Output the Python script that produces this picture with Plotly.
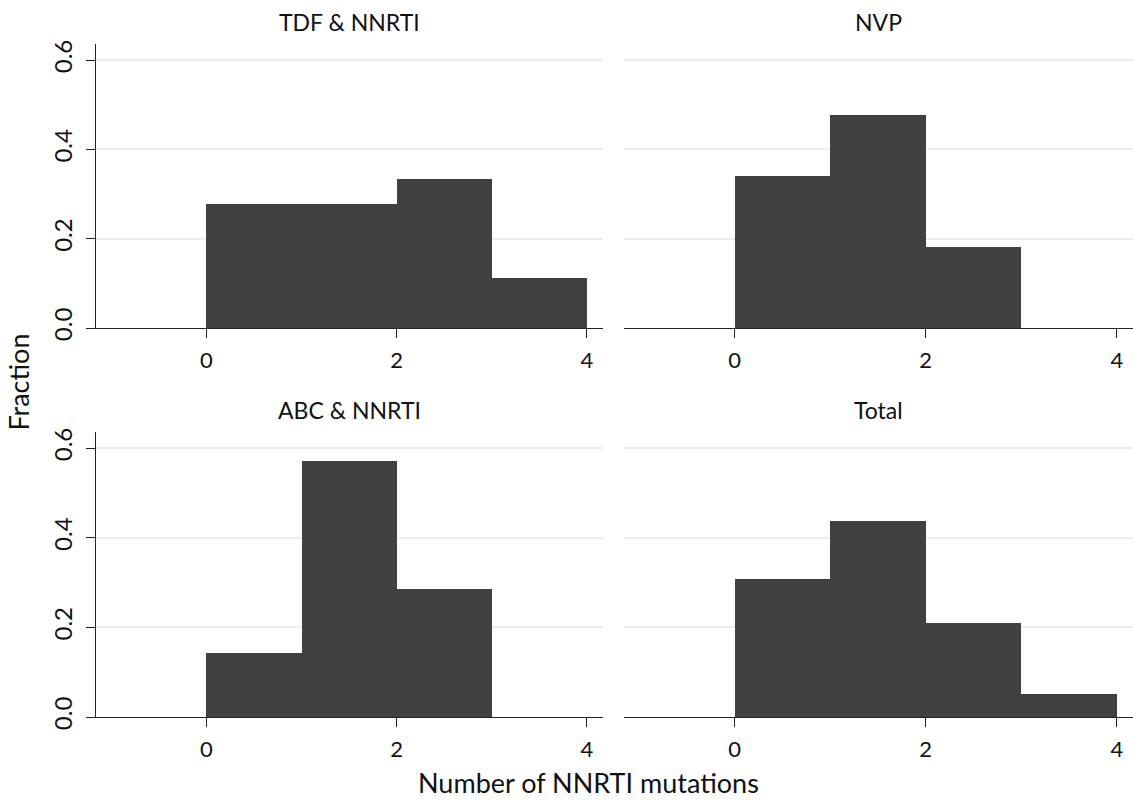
import plotly.graph_objects as go

# Data: histogram bins (left edges, width 1) and fractions
bin_left = [0, 1, 2, 3]
panel_titles = ["TDF & NNRTI", "NVP", "ABC & NNRTI", "Total"]
tdf_nnrti = [0.278, 0.278, 0.333, 0.111]
nvp = [0.341, 0.477, 0.182, 0.0]
abc_nnrti = [0.143, 0.571, 0.286, 0.0]
total = [0.307, 0.438, 0.209, 0.051]
x_ticks = [0, 2, 4]
y_ticks = [0.0, 0.2, 0.4, 0.6]
y_tick_text = ["0.0", "0.2", "0.4", "0.6"]

series = [tdf_nnrti, nvp, abc_nnrti, total]

FONT = "Lato"
BAR = "#404040"
TXT = "#111"

fig = go.Figure()

xdom = [[0, 0.489], [0.509, 1.0]]
ydom = [[0.578, 1.0], [0.0, 0.4235]]

for i, vals in enumerate(series):
    r, c = divmod(i, 2)
    ax = "" if i == 0 else str(i + 1)
    fig.add_trace(go.Bar(
        x=bin_left, y=vals, width=1, offset=0,
        marker=dict(color=BAR, line=dict(width=0)),
        xaxis="x" + ax, yaxis="y" + ax, showlegend=False,
    ))
    left = c == 0
    fig.layout["xaxis" + ax] = dict(
        domain=xdom[c], anchor="y" + ax, range=[-1.16, 4.17],
        tickvals=x_ticks, ticks="outside", ticklen=9, tickcolor="#222",
        showline=True, linecolor="#222", linewidth=1, showgrid=False,
        zeroline=False, tickfont=dict(family=FONT, size=22, color=TXT),
        ticklabelstandoff=4,
    )
    fig.layout["yaxis" + ax] = dict(
        domain=ydom[r], anchor="x" + ax, range=[0, 0.636],
        tickvals=y_ticks, ticktext=y_tick_text, tickangle=-90,
        showticklabels=left, ticks="outside" if left else "", ticklen=9,
        tickcolor="#222", showline=left, linecolor="#222",
        linewidth=1, showgrid=True, gridcolor="#ececec", gridwidth=1.5,
        zeroline=False, tickfont=dict(family=FONT, size=24, color=TXT),
        ticklabelstandoff=4,
    )
    fig.add_annotation(
        text=panel_titles[i], xref="x" + ax + " domain", yref="y" + ax + " domain",
        x=0.5, y=1.0, yshift=22, showarrow=False, xanchor="center", yanchor="middle",
        font=dict(family=FONT, size=23, color=TXT),
    )

fig.add_annotation(text="Number of NNRTI mutations", xref="paper", yref="paper",
                   x=0.4745, y=-0.098, showarrow=False, xanchor="center", yanchor="middle",
                   font=dict(family=FONT, size=27, color=TXT))
fig.add_annotation(text="Fraction", xref="paper", yref="paper",
                   x=-0.0745, y=0.498, showarrow=False, textangle=-90,
                   xanchor="center", yanchor="middle",
                   font=dict(family=FONT, size=27, color=TXT))

fig.update_layout(
    width=1133, height=801,
    margin=dict(l=96, r=0, t=44, b=84),
    paper_bgcolor="white", plot_bgcolor="white", bargap=0,
)

fig.write_html("out.html")
